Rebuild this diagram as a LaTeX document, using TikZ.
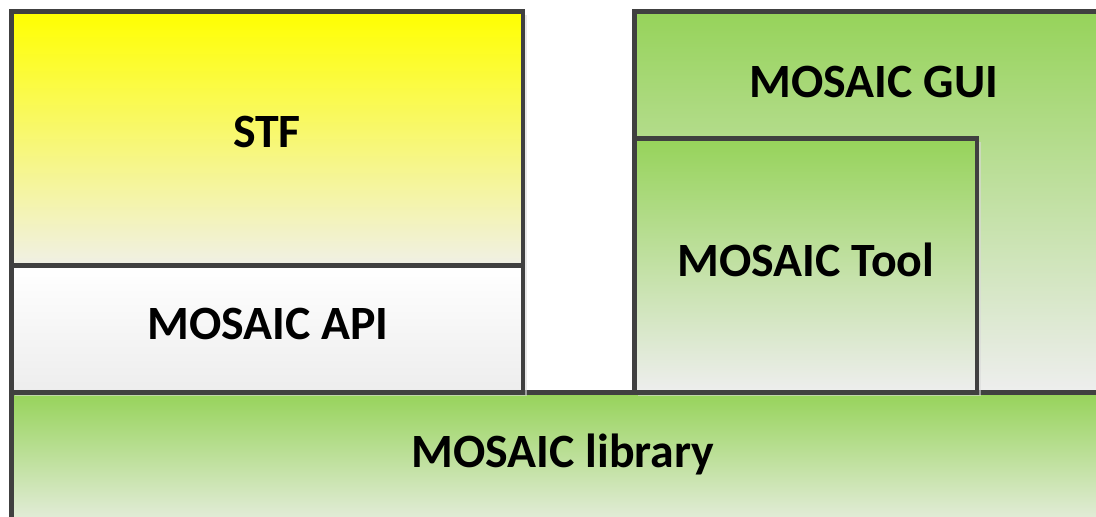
\documentclass[tikz,border=0pt]{standalone}
\usepackage{fontspec}
\setmainfont{Carlito}
\definecolor{boxline}{HTML}{404040}
\definecolor{stfyellow}{HTML}{FFFF00}
\definecolor{stflow}{HTML}{F0F0E6}
\definecolor{apilow}{HTML}{EDEDED}
\definecolor{mosgreen}{HTML}{96D35A}
\definecolor{moslow}{HTML}{EEEEEE}
\definecolor{liblow}{HTML}{ECEFE8}
\begin{document}
\begin{tikzpicture}[x=0.025cm, y=-0.025cm,
	box/.style={draw=boxline, line width=3.2pt},
	shade box/.style={fill=black!15, opacity=0.6},
	lbl/.style={anchor=base, inner sep=0pt, font=\fontsize{34}{40}\selectfont\bfseries}]

	\useasboundingbox (0,0) rectangle (1096,516);
	\clip (0,0) rectangle (1096,516);

	%draw library
	\draw [box, top color=mosgreen, bottom color=liblow] (11.5,392.5) rectangle (1120,535);

	%draw GUI
	\draw [box, top color=mosgreen, bottom color=moslow] (634.5,11.5) rectangle (1120,392.5);

	%draw Tool
	\fill [shade box] (637.5,141.5) rectangle (981,396);
	\draw [box, top color=mosgreen, bottom color=moslow] (634.5,138.5) rectangle (977,392.5);

	%draw STF and API
	\fill [shade box] (14.5,14.5) rectangle (527,396);
	\draw [box, top color=stfyellow, bottom color=stflow] (11.5,11.5) rectangle (523,265.5);
	\draw [box, top color=white, bottom color=apilow] (11.5,265.5) rectangle (523,392.5);

	% labels
	\node [lbl] (stf) at (267,147.5) {STF};
	\node [lbl] (api) at (268,339.5) {MOSAIC API};
	\node [lbl] (gui) at (874,97.5) {MOSAIC GUI};
	\node [lbl] (tool) at (806,276.5) {MOSAIC Tool};
	\node [lbl] (lib) at (563,467) {MOSAIC library};

\end{tikzpicture}
\end{document}
